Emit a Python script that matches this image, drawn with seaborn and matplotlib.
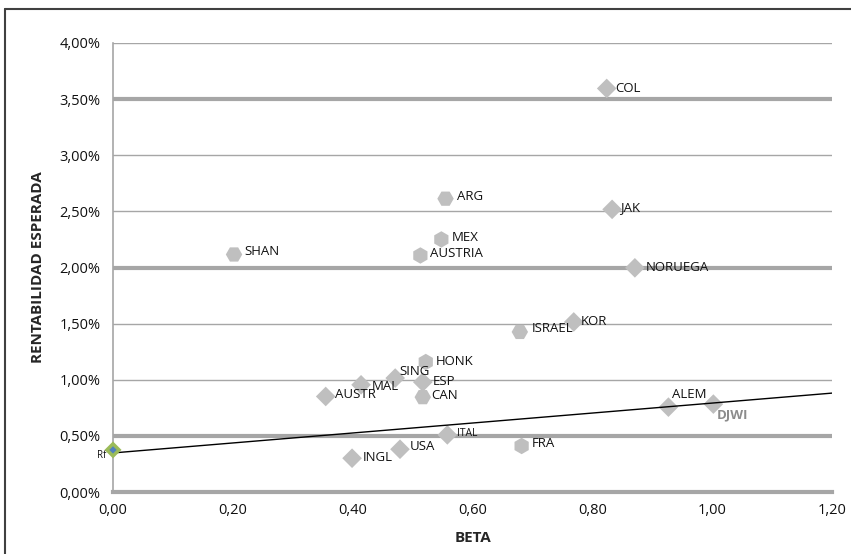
import matplotlib
matplotlib.use("Agg")
import matplotlib.pyplot as plt
from matplotlib.lines import Line2D
from matplotlib.ticker import FuncFormatter, MultipleLocator
import seaborn as sns
import pandas as pd

# ---- data ----
countries = ["COL", "JAK", "NORUEGA", "SHAN", "ARG", "MEX", "AUSTRIA", "ISRAEL",
             "KOR", "HONK", "SING", "ESP", "CAN", "MAL", "AUSTR", "ITAL", "USA",
             "INGL", "FRA", "ALEM", "DJWI"]
beta = [0.824, 0.833, 0.871, 0.202, 0.555, 0.548, 0.513, 0.679,
        0.769, 0.522, 0.471, 0.517, 0.517, 0.414, 0.355, 0.558, 0.479,
        0.399, 0.682, 0.927, 1.002]
ret = [3.595, 2.518, 1.997, 2.116, 2.613, 2.250, 2.107, 1.426,
       1.515, 1.158, 1.015, 0.979, 0.845, 0.955, 0.851, 0.509, 0.381,
       0.301, 0.410, 0.756, 0.783]
rf_beta = [0.0]
rf_ret = [0.375]
sml_beta = [0.0, 1.2]
sml_ret = [0.348, 0.881]
x_ticks = [0.0, 0.2, 0.4, 0.6, 0.8, 1.0, 1.2]
y_ticks = [0.0, 0.5, 1.0, 1.5, 2.0, 2.5, 3.0, 3.5, 4.0]
thick_grid = [0.5, 2.0, 3.5]

# ---- styles ----
shape = {"SHAN": "H", "ARG": "H", "MEX": "h", "AUSTRIA": "h", "ISRAEL": "H",
         "CAN": "H", "FRA": "h", "HONK": "h"}
label_off = {  # pixel offsets of label (left, center)
    "COL": (9, 0), "JAK": (8, 2), "NORUEGA": (11, 0), "SHAN": (10, 3),
    "ARG": (11, 2), "MEX": (10, 2), "AUSTRIA": (10, 2), "ISRAEL": (12, 3),
    "KOR": (7, 0), "HONK": (10, 1), "SING": (4, 7), "ESP": (10, 1),
    "CAN": (8, 2), "MAL": (11, -2), "AUSTR": (9, 2), "ITAL": (10, 1),
    "USA": (10, 3), "INGL": (11, 1), "FRA": (10, 2), "ALEM": (4, 13),
    "DJWI": (3, -11),
}

sns.set_theme(style="white")
plt.rcParams["font.family"] = ["Open Sans", "DejaVu Sans"]

fig = plt.figure(figsize=(8.51, 5.54), dpi=100)
ax = fig.add_axes([113 / 851, 1 - 492 / 554, (832 - 113) / 851, (492 - 43) / 554])

GRID = "#A6A6A6"
for y in y_ticks[1:]:
    lw = 3.0 if y in thick_grid else 1.0
    ax.axhline(y, color=GRID, lw=lw, zorder=0)

df = pd.DataFrame({"country": countries, "beta": beta, "ret": ret})
df["shape"] = [shape.get(c, "D") for c in countries]
dia = df[df["shape"] == "D"]
hexa = df[df["shape"] != "D"]
sns.scatterplot(data=dia, x="beta", y="ret", marker="D",
                color="#BFBFBF", edgecolor="none", s=100, legend=False, ax=ax,
                zorder=3)
sns.scatterplot(data=hexa, x="beta", y="ret", style="shape",
                markers={"H": "H", "h": "h"},
                color="#BFBFBF", edgecolor="none", s=140, legend=False, ax=ax,
                zorder=3)

sns.lineplot(x=sml_beta, y=sml_ret, color="black", lw=1.0, ax=ax, zorder=4)

ax.scatter(rf_beta, rf_ret, marker="D", s=75, color="#9BBB59", edgecolor="none",
           zorder=5, clip_on=False)
ax.scatter(rf_beta, rf_ret, marker="D", s=14, color="#4F81BD", edgecolor="none",
           zorder=6, clip_on=False)
ax.annotate("Rf", (rf_beta[0], rf_ret[0]), xytext=(-16, -6),
            textcoords="offset pixels", fontsize=7, ha="left", va="center",
            color="#111111", annotation_clip=False)

for c, b, r in zip(countries, beta, ret):
    dx, dy = label_off[c]
    if c == "DJWI":
        ax.annotate(c, (b, r), xytext=(dx, dy), textcoords="offset pixels",
                    fontsize=9.5, fontweight="bold", color="#8C8C8C",
                    ha="left", va="center")
    else:
        fs = 7.5 if c == "ITAL" else 9.5
        ax.annotate(c, (b, r), xytext=(dx, dy), textcoords="offset pixels",
                    fontsize=fs, color="#111111", ha="left", va="center")

ax.set_xlim(0, 1.2)
ax.set_ylim(0, 4.0)
ax.set_xticks(x_ticks)
ax.set_yticks(y_ticks)
ax.xaxis.set_major_formatter(FuncFormatter(lambda v, p: f"{v:.2f}".replace(".", ",")))
ax.yaxis.set_major_formatter(FuncFormatter(lambda v, p: f"{v:.2f}".replace(".", ",") + "%"))
ax.tick_params(axis="both", labelsize=10.5, colors="#111111")
ax.tick_params(axis="y", length=5, width=1, color=GRID, direction="out", pad=4)
ax.tick_params(axis="x", length=4, width=1, color=GRID, direction="out", pad=4)

for s in ["top", "right"]:
    ax.spines[s].set_visible(False)
ax.spines["left"].set_color(GRID)
ax.spines["left"].set_linewidth(1.2)
ax.spines["bottom"].set_color(GRID)
ax.spines["bottom"].set_linewidth(3.0)

ax.set_xlabel("BETA", fontsize=11, fontweight="bold", labelpad=9)
ax.set_ylabel("RENTABILIDAD ESPERADA", fontsize=11, fontweight="bold", labelpad=10)

# outer chart frame (left and top edges visible)
fig.add_artist(Line2D([4.5 / 851, 4.5 / 851], [0, 1 - 8.5 / 554],
                      transform=fig.transFigure, color="#404040", lw=1.5))
fig.add_artist(Line2D([4.5 / 851, 1], [1 - 8.5 / 554, 1 - 8.5 / 554],
                      transform=fig.transFigure, color="#404040", lw=1.5))

fig.savefig("out.png", dpi=100)
